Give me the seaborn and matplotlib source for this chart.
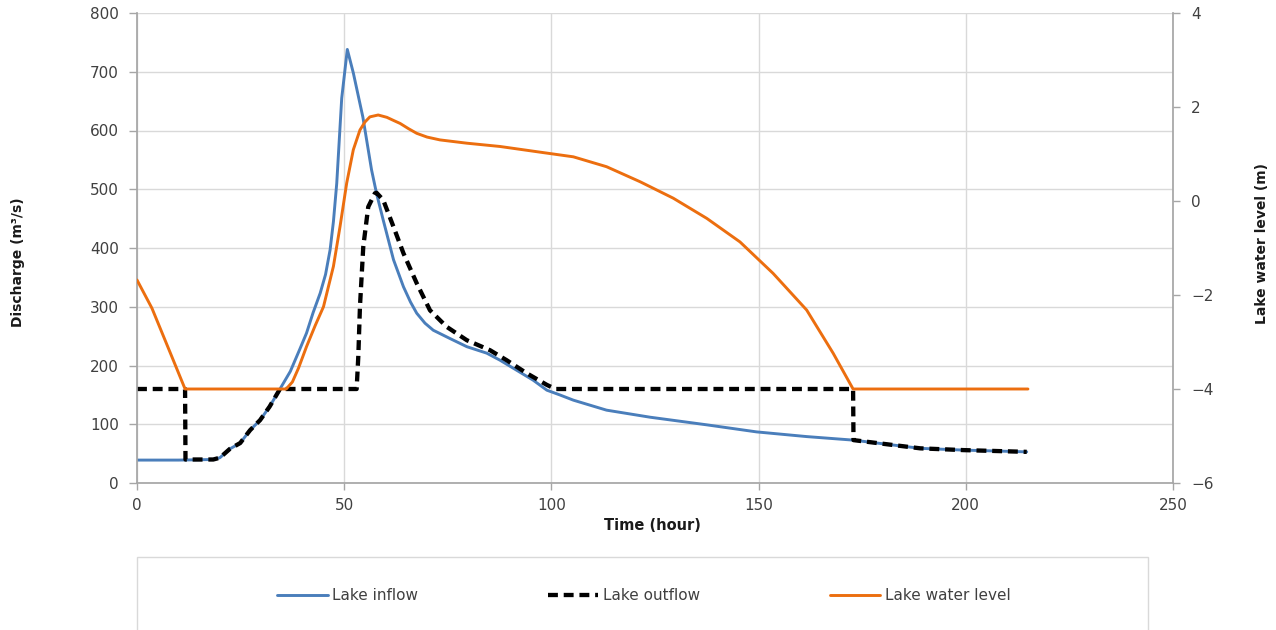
import matplotlib
matplotlib.use("Agg")
import matplotlib.pyplot as plt
from matplotlib.patches import Rectangle
import seaborn as sns

# ---- data -------------------------------------------------------------
inflow_time = [0, 10, 18.4, 20, 22.4, 24.9, 27.3, 29.7, 32, 34.5, 37, 39.3, 40.9,
               42.5, 44.2, 45.5, 46.6, 47.4, 48.2, 49.4, 50.75, 52.2, 54.5, 56.6,
               57.8, 59.4, 61.9, 64.3, 66.0, 67.5, 69.5, 71.5, 75.5, 79.6, 84.4,
               87.6, 91.6, 95.6, 98.9, 102, 105.3, 113.3, 123.8, 137.5, 149.5,
               161.6, 172.8, 180.9, 189, 199.4, 214.7]
inflow_q = [39, 39, 40, 43, 58, 68, 90, 107, 130, 160, 190, 228, 255,
            290, 323, 355, 397, 445, 510, 655, 738, 698, 623, 533,
            493, 448, 380, 334, 308, 289, 272, 260, 246, 232, 221,
            209, 192, 175, 158, 150, 141, 124, 112, 99, 87,
            79, 73, 66, 59, 56, 53]

outflow_time = [0, 11.6, 11.7, 18.4, 20, 22.4, 24.9, 27.3, 29.7, 32, 34.5, 53.0,
                53.4, 53.8, 54.6, 55.8, 57.4, 57.8, 59.4, 61.9, 64.3, 67.5, 70.7,
                74.7, 79.6, 85.2, 89.2, 94, 98.9, 101, 172.8, 172.9, 180.9, 189,
                199.4, 214.7]
outflow_q = [160, 160, 40, 40, 43, 58, 68, 90, 107, 130, 160, 160,
             215, 300, 402, 470, 493, 494, 482, 436, 391, 340, 294,
             266, 243, 226, 209, 187, 167, 160, 160, 73, 66, 59,
             56, 53]

level_time = [0, 3.6, 8.4, 11.6, 36, 37.5, 39, 40.9, 43, 45, 47.4, 49, 50.6,
              52.2, 53.8, 55.0, 56.2, 58.2, 60.3, 62.0, 63.5, 65.5, 67.5, 70.0,
              73.1, 79.6, 87.6, 97.2, 105.3, 113.3, 121.4, 129.4, 137.5, 145.5,
              153.5, 161.6, 168, 172.8, 215]
level_m = [-1.68, -2.28, -3.31, -4.0, -4.0, -3.85, -3.55, -3.10, -2.65, -2.25,
           -1.39, -0.54, 0.38, 1.09, 1.51, 1.68, 1.79, 1.83, 1.78, 1.71, 1.65,
           1.54, 1.44, 1.36, 1.30, 1.23, 1.16, 1.04, 0.94, 0.73, 0.41, 0.06,
           -0.37, -0.87, -1.54, -2.32, -3.24, -4.0, -4.0]

x_ticks = [0, 50, 100, 150, 200, 250]
q_ticks = [0, 100, 200, 300, 400, 500, 600, 700, 800]
level_ticks = [-6, -4, -2, 0, 2, 4]

# ---- style ------------------------------------------------------------
BLUE = "#4A7EBB"
ORANGE = "#EC6E0F"
BLACK = "#000000"
GRID = "#D9D9D9"
SPINE = "#A6A6A6"
TEXT = "#404040"

sns.set_theme(style="white")
plt.rcParams["font.family"] = ["DejaVu Sans"]

W, H = 1276, 630
fig = plt.figure(figsize=(W / 100, H / 100), dpi=100)
left, right, top, bottom = 137, 1173, 13, 483
ax = fig.add_axes([left / W, 1 - bottom / H, (right - left) / W, (bottom - top) / H])
ax2 = ax.twinx()

sns.lineplot(x=inflow_time, y=inflow_q, ax=ax, color=BLUE, lw=2.1,
             sort=False, estimator=None, label="Lake inflow", legend=False)
sns.lineplot(x=outflow_time, y=outflow_q, ax=ax, color=BLACK, lw=3.1,
             linestyle=(0, (2.3, 1.35)), sort=False, estimator=None,
             label="Lake outflow", legend=False)
sns.lineplot(x=level_time, y=level_m, ax=ax2, color=ORANGE, lw=2.1,
             sort=False, estimator=None, label="Lake water level", legend=False)

ax.set_xlim(0, 250)
ax.set_ylim(0, 800)
ax2.set_ylim(-6, 4)
ax.set_xticks(x_ticks)
ax.set_yticks(q_ticks)
ax2.set_yticks(level_ticks)
ax.set_xlabel("")
ax.set_ylabel("")
ax2.set_ylabel("")

ax.grid(True, color=GRID, lw=1)
ax2.grid(False)
ax.set_axisbelow(True)

for s in ("top", "right"):
    ax.spines[s].set_visible(False)
for s in ("top", "left", "bottom"):
    ax2.spines[s].set_visible(False)
for s in ("left", "bottom"):
    ax.spines[s].set_color(SPINE)
ax2.spines["right"].set_color(SPINE)

ax.tick_params(axis="y", left=True, direction="out", length=6, width=1,
               color=SPINE, pad=7, labelsize=11, labelcolor=TEXT)
ax.tick_params(axis="x", bottom=True, direction="out", length=5, width=1,
               color=SPINE, pad=6, labelsize=11, labelcolor=TEXT)
ax2.tick_params(axis="y", right=True, direction="out", length=5, width=1,
                color=SPINE, pad=8, labelsize=11, labelcolor=TEXT)

fig.text(652 / W, 1 - 525 / H, "Time (hour)", ha="center", va="center",
         fontsize=10.5, fontweight="bold", color="#1a1a1a")
fig.text(18 / W, 1 - 262 / H, "Discharge (m³/s)", ha="center", va="center",
         rotation=90, fontsize=10, fontweight="bold", color="#1a1a1a")
fig.text(1262 / W, 1 - 243 / H, "Lake water level (m)", ha="center", va="center",
         rotation=90, fontsize=10, fontweight="bold", color="#1a1a1a")

# legend panel along the bottom
panel = Rectangle((137 / W, -0.05), (1148 - 137) / W, 0.05 + (1 - 557 / H),
                  transform=fig.transFigure, fill=False, edgecolor=GRID, lw=1)
fig.patches.append(panel)

h1, l1 = ax.get_legend_handles_labels()
h2, l2 = ax2.get_legend_handles_labels()
fig.legend(h1 + h2, l1 + l2, loc="center", bbox_to_anchor=(644 / W, 1 - 596 / H),
           ncol=3, frameon=False, fontsize=11, handlelength=3.3,
           handletextpad=0.3, columnspacing=8.5, labelcolor=TEXT)

fig.savefig("out.png", dpi=100)
